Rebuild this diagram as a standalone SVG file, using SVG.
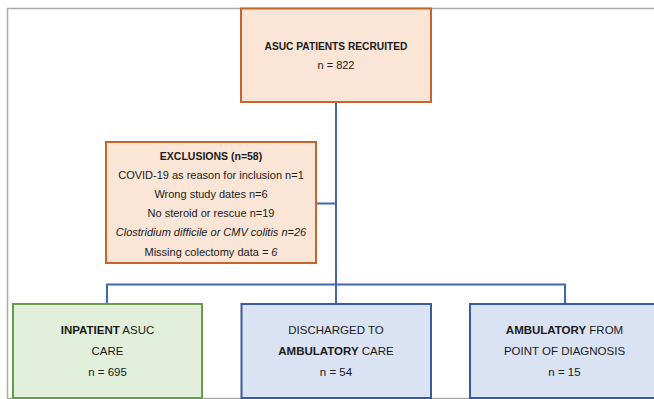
<svg xmlns="http://www.w3.org/2000/svg" width="654" height="399" viewBox="0 0 654 399">
<style>
  text { font-family: "Liberation Sans", Arial, sans-serif; fill: #1a1a1a; text-anchor: middle; }
  .orange { fill: #FBE5D6; stroke: #C8652A; stroke-width: 2; }
  .green { fill: #E2EFDA; stroke: #6A9A4C; stroke-width: 2; }
  .blue { fill: #DAE3F3; stroke: #3A5A9E; stroke-width: 2; }
  .conn { fill: none; stroke: #4267B0; stroke-width: 2; }
  .b { font-weight: bold; }
  .s11 { font-size: 11px; }
  .s115 { font-size: 11.5px; }
</style>
<rect x="7.5" y="8.5" width="660" height="390" fill="#ffffff" stroke="#ABABAB" stroke-width="1.5"/>
<g id="connectors">
  <path class="conn" d="M336 102 V304"/>
  <path class="conn" d="M316 203.5 H336"/>
  <path class="conn" d="M107 304 V284.5 H565 V304"/>
</g>
<g id="recruited">
  <rect class="orange" x="241" y="8.5" width="190" height="93.5"/>
  <text x="336" y="49.5" class="b" font-size="10.2px">ASUC PATIENTS RECRUITED</text>
  <text x="336" y="69" class="s11">n = 822</text>
</g>
<g id="exclusions">
  <rect class="orange" x="106" y="142" width="210" height="121"/>
  <text x="211" y="159.6" class="b" font-size="10.5px">EXCLUSIONS (n=58)</text>
  <text x="211" y="179" class="s11">COVID-19 as reason for inclusion n=1</text>
  <text x="211" y="198.2" class="s11">Wrong study dates n=6</text>
  <text x="211" y="217.2" class="s11">No steroid or rescue n=19</text>
  <text x="211" y="236.2" class="s11" font-style="italic">Clostridium difficile or CMV colitis n=26</text>
  <text x="211" y="255.6" class="s11">Missing colectomy data <tspan font-style="italic">= 6</tspan></text>
</g>
<g id="inpatient">
  <rect class="green" x="13" y="304" width="189" height="94"/>
  <text x="107.5" y="334" class="s115"><tspan class="b">INPATIENT</tspan> ASUC</text>
  <text x="107.5" y="355" class="s115">CARE</text>
  <text x="107.5" y="375.8" class="s115">n = 695</text>
</g>
<g id="discharged">
  <rect class="blue" x="241.5" y="304" width="189.5" height="94"/>
  <text x="336" y="334" class="s115">DISCHARGED TO</text>
  <text x="336" y="355" class="s115"><tspan class="b">AMBULATORY</tspan> CARE</text>
  <text x="336" y="375.8" class="s115">n = 54</text>
</g>
<g id="ambulatory">
  <rect class="blue" x="470" y="304" width="195" height="94"/>
  <text x="564.5" y="334" class="s115"><tspan class="b">AMBULATORY</tspan> FROM</text>
  <text x="564.5" y="355" class="s115">POINT OF DIAGNOSIS</text>
  <text x="564.5" y="375.8" class="s115">n = 15</text>
</g>
</svg>
